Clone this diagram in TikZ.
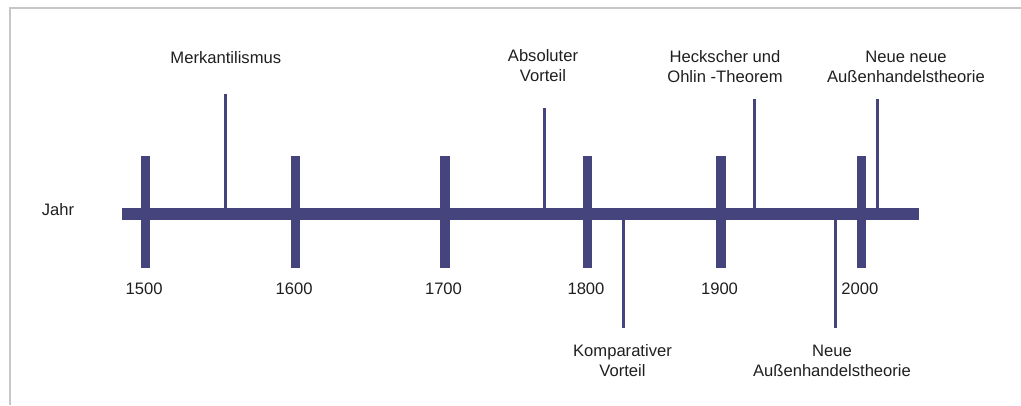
\documentclass[tikz,border=0pt]{standalone}
\usepackage{fontspec}
\setmainfont{Liberation Sans}
\begin{document}
\begin{tikzpicture}[x=1pt,y=-1pt,
    every node/.style={inner sep=0pt,outer sep=0pt,font=\fontsize{16.6}{20}\selectfont,text=black!88},
    axisbar/.style={draw=barblue,line width=12.5pt},
    centurytick/.style={draw=barblue,line width=9.5pt},
    eventline/.style={draw=barblue,line width=3pt},
    label/.style={align=center,anchor=base},
    frameline/.style={draw=black!22,line width=2pt}]
  \definecolor{barblue}{RGB}{69,68,125}
  \useasboundingbox (0,0) rectangle (1021,405);
  % frame edges
  \coordinate (fa) at (10,405);
  \coordinate (fb) at (10,7.5);
  \coordinate (fc) at (1021,7.5);
  \draw[frameline] (fa) -- (fb) -- (fc);
  % main axis
  \coordinate (axL) at (122,214);
  \coordinate (axR) at (919,214);
  \draw[axisbar] (axL) -- (axR);
  \node[label] (jahr) at (58,215.7) {Jahr};
  % century ticks with year labels
  \foreach \yr/\x in {1500/145.7,1600/295.7,1700/445,1800/587.5,1900/721,2000/861.3}{
    \coordinate (t\yr a) at (\x,156);
    \coordinate (t\yr b) at (\x,268);
    \draw[centurytick] (t\yr a) -- (t\yr b);
    \node[label] (y\yr) at (\x-1.5,294) {\yr};
  }
  % events above the axis (two-line labels are placed by their last baseline)
  \coordinate (merkA) at (225,214);   \coordinate (merkB) at (225,94);
  \coordinate (absA) at (544.3,214);  \coordinate (absB) at (544.3,107.5);
  \coordinate (heckA) at (754,214);   \coordinate (heckB) at (754,99.3);
  \coordinate (nnA) at (877.3,214);   \coordinate (nnB) at (877.3,99.3);
  \draw[eventline] (merkA) -- (merkB);
  \draw[eventline] (absA) -- (absB);
  \draw[eventline] (heckA) -- (heckB);
  \draw[eventline] (nnA) -- (nnB);
  \node[label] (merk) at (225.8,63) {Merkantilismus};
  \node[label] (abs) at (543,81.7) {Absoluter\\Vorteil};
  \node[label] (heck) at (725,82.5) {Heckscher und\\Ohlin -Theorem};
  \node[label] (nn) at (906,82.7) {Neue neue\\Außenhandelstheorie};
  % events below the axis
  \coordinate (kompA) at (623.3,214); \coordinate (kompB) at (623.3,327.7);
  \coordinate (neuA) at (835,214);    \coordinate (neuB) at (835,327.7);
  \draw[eventline] (kompA) -- (kompB);
  \draw[eventline] (neuA) -- (neuB);
  \node[label] (komp) at (622.5,376.7) {Komparativer\\Vorteil};
  \node[label] (neu) at (832,376.7) {Neue\\Außenhandelstheorie};
\end{tikzpicture}
\end{document}
